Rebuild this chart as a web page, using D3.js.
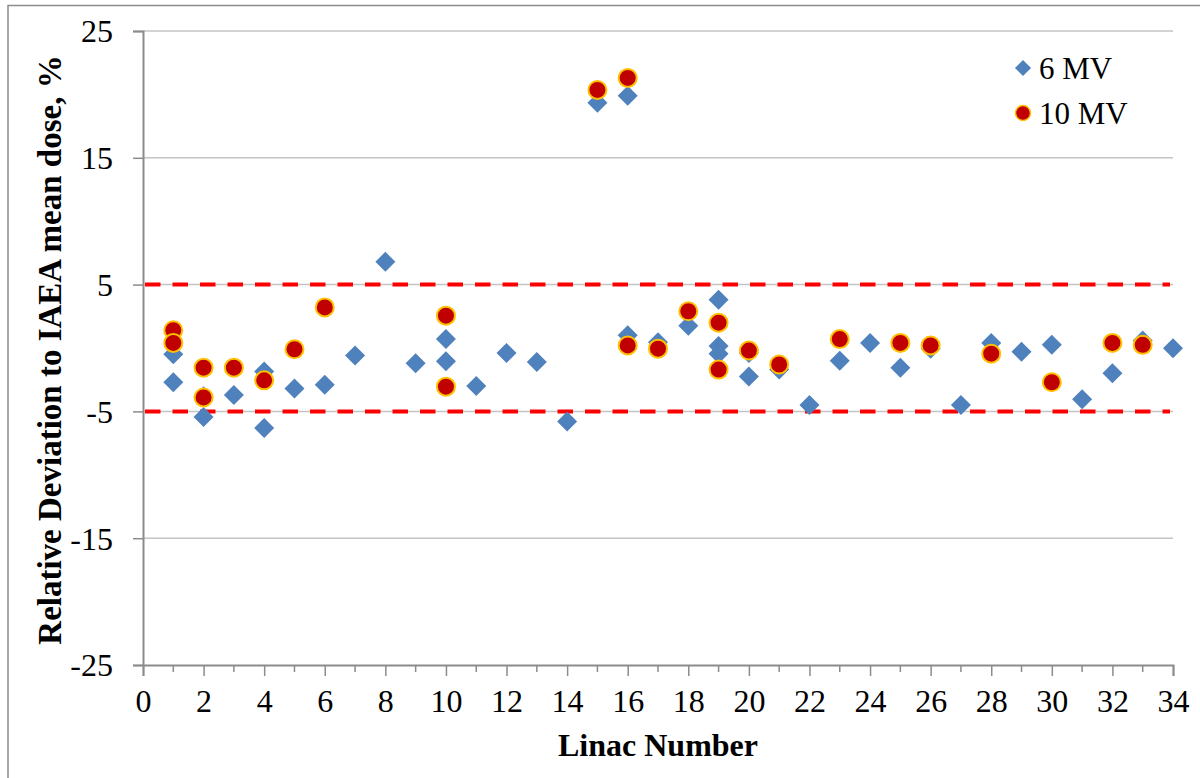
<!DOCTYPE html>
<html>
<head>
<meta charset="utf-8">
<script src="https://cdn.jsdelivr.net/npm/d3@7"></script>
<style>
  body { margin: 0; background: #fff; }
  svg text { font-family: "Liberation Serif", "Times New Roman", serif; fill: #000; }
</style>
</head>
<body>
<script>
// 6 MV measurements (linac number, deviation %)
const linac6 = [1, 1, 2, 2, 3, 4, 4, 5, 6, 7, 8, 9, 10, 10, 11, 12, 13, 14, 15, 16, 16, 17, 18, 19, 19, 19, 20, 20, 21, 22, 23, 24, 25, 26, 27, 28, 29, 30, 31, 32, 33, 34];
const dev6 = [-0.5, -2.7, -3.8, -5.45, -3.7, -1.85, -6.3, -3.2, -2.9, -0.6, 6.8, -1.2, 0.7, -1.05, -3.0, -0.4, -1.1, -5.8, 19.35, 19.9, 1.0, 0.45, 1.75, 3.8, 0.15, -0.45, -0.4, -2.25, -1.7, -4.5, -1.0, 0.4, -1.55, -0.05, -4.5, 0.4, -0.3, 0.25, -4.05, -2.0, 0.6, -0.02];

// 10 MV measurements
const linac10 = [1, 1, 2, 2, 3, 4, 5, 6, 10, 10, 15, 16, 16, 17, 18, 19, 19, 20, 21, 23, 25, 26, 28, 30, 32, 33];
const dev10 = [1.4, 0.4, -1.55, -3.9, -1.55, -2.55, -0.1, 3.2, 2.55, -3.05, 20.35, 21.3, 0.2, -0.05, 2.9, 2.0, -1.7, -0.2, -1.3, 0.7, 0.4, 0.2, -0.45, -2.7, 0.4, 0.25];

const yTicks = [-25, -15, -5, 5, 15, 25];
const xTicks = d3.range(0, 35, 2);
const xMinor = d3.range(1, 34, 2);
const limits = [5, -5];
const seriesNames = ["6 MV", "10 MV"];

const width = 1200, height = 778;
const margin = { top: 31, right: 27, bottom: 113, left: 143 };
const serif = '"Liberation Serif", "Times New Roman", serif';

const svg = d3.create("svg")
  .attr("width", width)
  .attr("height", height);
document.body.appendChild(svg.node());

// outer chart frame (only top/left visible in the picture)
svg.append("path")
  .attr("d", `M8,${height + 5} V5.5 H${width + 5}`)
  .attr("fill", "none")
  .attr("stroke", "#8c8c8c")
  .attr("stroke-width", 1.5);

const x = d3.scaleLinear().domain([0, 34]).range([margin.left, width - margin.right]);
const y = d3.scaleLinear().domain([-25, 25]).range([height - margin.bottom, margin.top]);

// gridlines
svg.append("g")
  .selectAll("line")
  .data(yTicks.filter(d => d !== -25))
  .join("line")
  .attr("x1", x(0)).attr("x2", x(34))
  .attr("y1", d => y(d)).attr("y2", d => y(d))
  .attr("stroke", "#c4c4c4")
  .attr("stroke-width", 1.5);

// limit lines
svg.append("g")
  .selectAll("line")
  .data(limits)
  .join("line")
  .attr("x1", x(0) + 2).attr("x2", x(34) - 3)
  .attr("y1", d => y(d)).attr("y2", d => y(d))
  .attr("stroke", "#ff0000")
  .attr("stroke-width", 4)
  .attr("stroke-dasharray", "15.5,12");

// y axis
const yAxis = svg.append("g")
  .attr("transform", `translate(${x(0)},0)`)
  .call(d3.axisLeft(y).tickValues(yTicks).tickSize(10).tickPadding(20).tickFormat(d => String(d)));
yAxis.attr("font-family", serif);
yAxis.select(".domain").attr("stroke", "#8c8c8c").attr("stroke-width", 2);
yAxis.selectAll(".tick line").attr("stroke", "#8c8c8c").attr("stroke-width", 1.5);
yAxis.selectAll("text").style("font-size", "32px").style("font-family", serif).attr("fill", "#000").attr("dy", "0.34em");

// x axis
const xAxis = svg.append("g")
  .attr("transform", `translate(0,${y(-25)})`)
  .call(d3.axisBottom(x).tickValues(xTicks).tickSize(11).tickPadding(13).tickFormat(d => String(d)));
xAxis.attr("font-family", serif);
xAxis.select(".domain").attr("stroke", "#8c8c8c").attr("stroke-width", 2);
xAxis.selectAll(".tick line").attr("stroke", "#8c8c8c").attr("stroke-width", 1.5);
xAxis.selectAll("text").style("font-size", "32px").style("font-family", serif).attr("fill", "#000");

svg.append("g")
  .selectAll("line")
  .data(xMinor)
  .join("line")
  .attr("x1", d => x(d)).attr("x2", d => x(d))
  .attr("y1", y(-25)).attr("y2", y(-25) + 7)
  .attr("stroke", "#8c8c8c")
  .attr("stroke-width", 1.5);

// axis titles
svg.append("text")
  .attr("x", 658)
  .attr("y", 756)
  .attr("text-anchor", "middle")
  .style("font-size", "32px")
  .style("font-weight", "bold")
  .text("Linac Number");

svg.append("text")
  .attr("transform", "translate(61,350) rotate(-90)")
  .attr("text-anchor", "middle")
  .style("font-size", "33px")
  .style("font-weight", "bold")
  .text("Relative Deviation to IAEA mean dose, %");

// markers
const diamond = d3.symbol().type(d3.symbolSquare).size(200);

svg.append("g")
  .selectAll("path")
  .data(d3.zip(linac6, dev6))
  .join("path")
  .attr("d", diamond)
  .attr("transform", d => `translate(${x(d[0])},${y(d[1])}) rotate(45)`)
  .attr("fill", "#4f81bd");

svg.append("g")
  .selectAll("circle")
  .data(d3.zip(linac10, dev10))
  .join("circle")
  .attr("cx", d => x(d[0]))
  .attr("cy", d => y(d[1]))
  .attr("r", 9)
  .attr("fill", "#c00000")
  .attr("stroke", "#ffc000")
  .attr("stroke-width", 2);

// legend
const legend = svg.append("g").attr("transform", "translate(1023,0)");
legend.append("path")
  .attr("d", d3.symbol().type(d3.symbolSquare).size(130))
  .attr("transform", "translate(0,68) rotate(45)")
  .attr("fill", "#4f81bd");
legend.append("circle")
  .attr("cx", 0).attr("cy", 113).attr("r", 7.5)
  .attr("fill", "#c00000")
  .attr("stroke", "#ffc000")
  .attr("stroke-width", 1.5);
legend.selectAll("text")
  .data(seriesNames)
  .join("text")
  .attr("x", 16)
  .attr("y", (d, i) => 68 + i * 45)
  .attr("dy", "0.35em")
  .style("font-size", "31px")
  .text(d => d);
</script>
</body>
</html>
